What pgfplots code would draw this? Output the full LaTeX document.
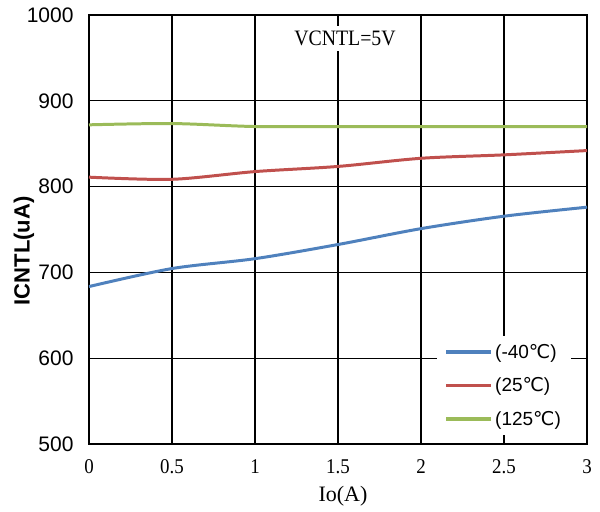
\documentclass[border=0pt]{standalone}
\usepackage{fontspec}
\setmainfont{Liberation Serif}
\newfontfamily\condserif[FakeStretch=0.9]{Liberation Serif}
\newfontfamily\arial{Liberation Sans}
\newfontfamily\dejavu{DejaVu Sans}
\usepackage{pgfplots}
\pgfplotsset{compat=1.18}
\definecolor{cblue}{RGB}{79,129,189}
\definecolor{cred}{RGB}{192,80,77}
\definecolor{cgreen}{RGB}{155,187,89}
\begin{document}
\begin{tikzpicture}
\begin{axis}[
  scale only axis, width=498bp, height=429bp,
  xmin=0, xmax=3, ymin=500, ymax=1000,
  clip mode=individual,
  xtick={0,0.5,1,1.5,2,2.5,3},
  xticklabels={0,0.5,1,1.5,2,2.5,3},
  ytick={500,600,700,800,900,1000},
  yticklabels={500,600,700,800,900,1000},
  grid=major,
  major grid style={black, line width=1.4pt},
  axis line style={black, line width=1.4pt},
  major tick length=0pt,
  x tick label style={font=\condserif\fontsize{21bp}{21bp}\selectfont, yshift=-12bp},
  y tick label style={font=\arial\fontsize{21bp}{21bp}\selectfont, xshift=-12bp},
  legend style={at={(rel axis cs:0.968,0.021)}, anchor=south east, draw=none, fill=white,
    font=\arial\fontsize{19bp}{22bp}\selectfont, row sep=14bp, inner xsep=8bp, inner ysep=6bp},
  legend cell align=left,
  legend image code/.code={\draw[#1, line width=3.5pt] (0bp,0bp) -- (45bp,0bp);},
]
\addplot[cblue, line width=3pt, smooth] coordinates {(0,683.5) (0.5,704.5) (1,716) (1.5,732.5) (2,751) (2.5,765.5) (3,776)};
\addlegendentry{(-40{\dejavu ℃})}
\addplot[cred, line width=3pt, smooth] coordinates {(0,811) (0.5,808.5) (1,817.5) (1.5,823.5) (2,833) (2.5,837) (3,842)};
\addlegendentry{(25{\dejavu ℃})}
\addplot[cgreen, line width=3pt, smooth] coordinates {(0,872) (0.5,873.5) (1,870) (1.5,870) (2,870) (2.5,870) (3,870)};
\addlegendentry{(125{\dejavu ℃})}
\node[fill=white, inner xsep=6bp, inner ysep=5bp, font=\condserif\fontsize{22bp}{22bp}\selectfont] at (axis cs:1.542,973) {VCNTL=5V};
\node[rotate=90, font=\arial\bfseries\fontsize{22bp}{22bp}\selectfont] at ([xshift=-65bp]rel axis cs:0,0.45) {ICNTL(uA)};
\node[font=\fontsize{22bp}{22bp}\selectfont] at ([xshift=5bp,yshift=-52bp]rel axis cs:0.5,0) {Io(A)};
\end{axis}
\pgfresetboundingbox
\path (current axis.south west) ++(-89bp,-68bp) rectangle ++(600bp,512bp);
\end{tikzpicture}
\end{document}
